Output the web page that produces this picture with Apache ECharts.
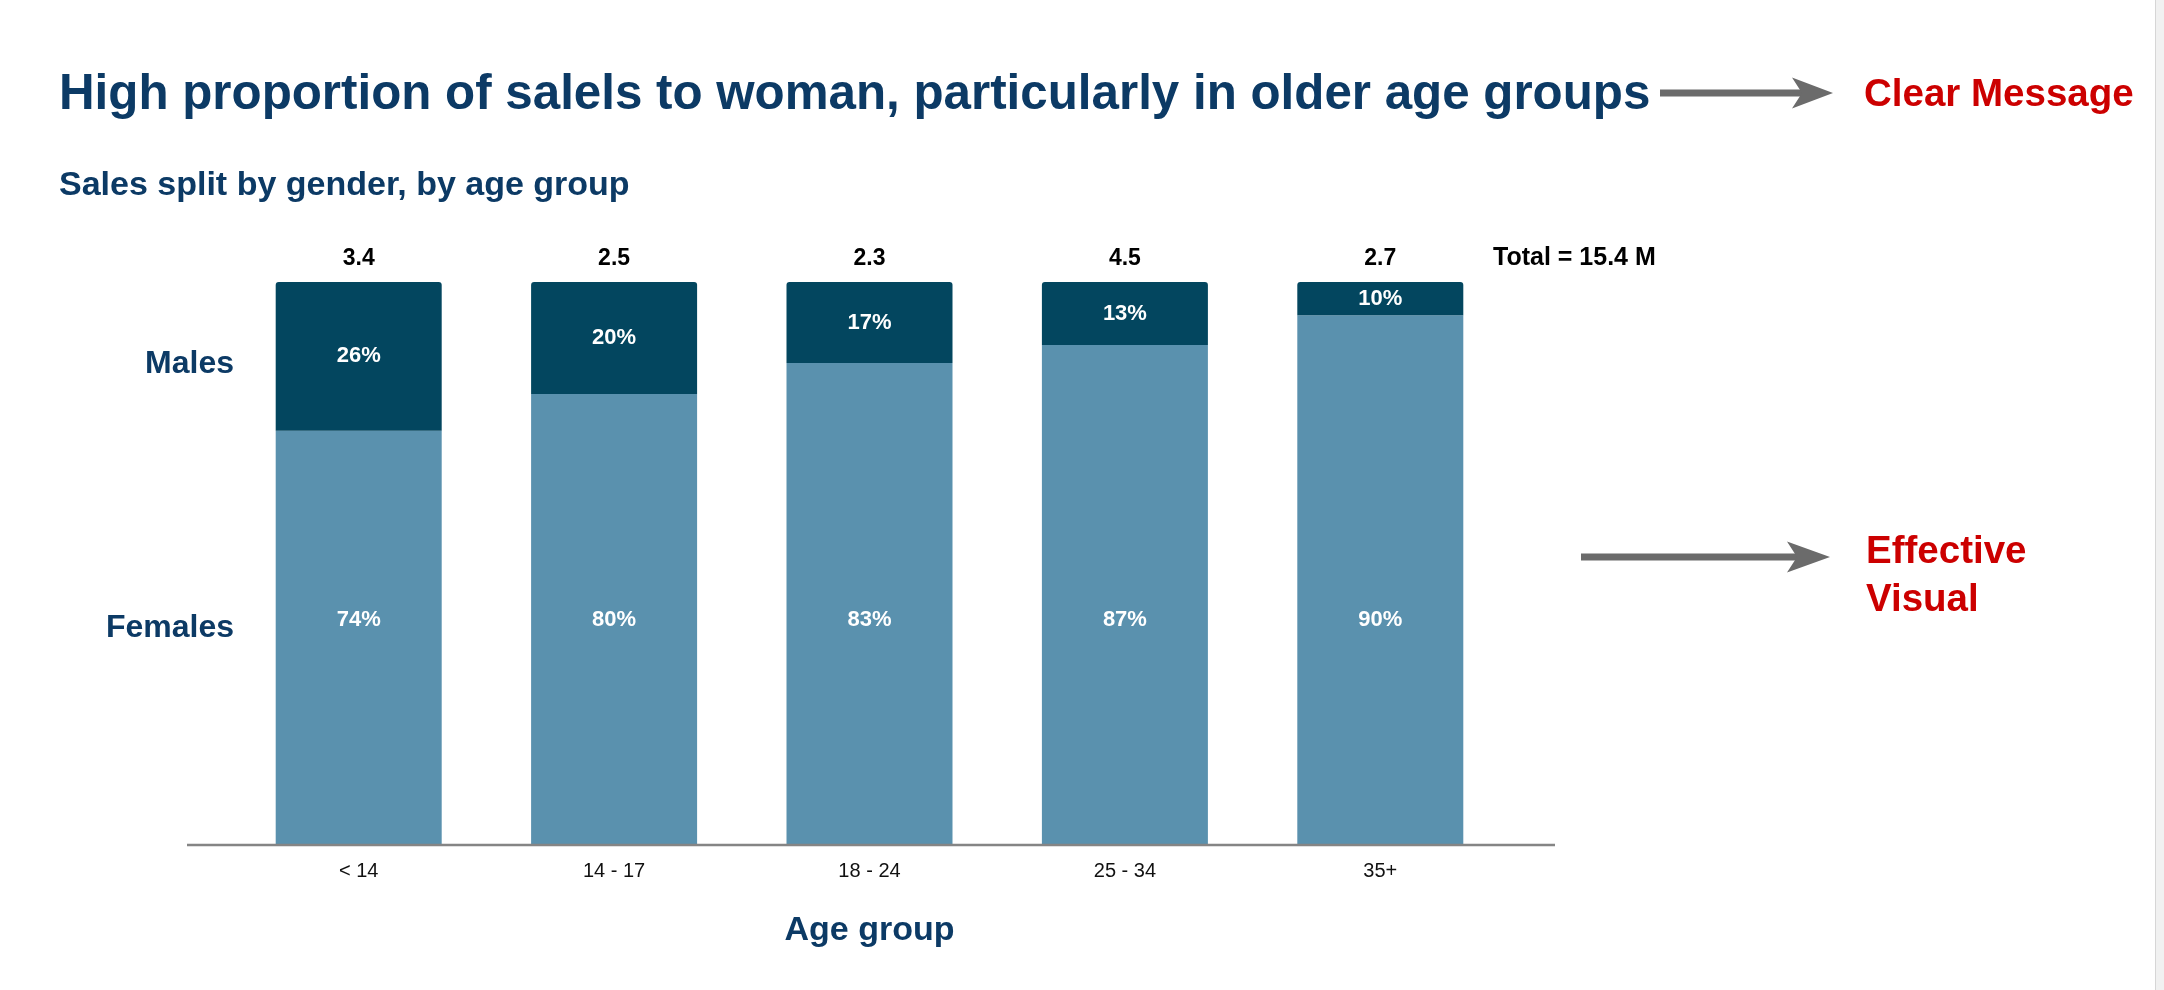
<!DOCTYPE html>
<html>
<head>
<meta charset="utf-8">
<script src="https://cdn.jsdelivr.net/npm/echarts@6/dist/echarts.min.js"></script>
<style>
  html, body { margin: 0; padding: 0; background: #ffffff; }
  #chart { width: 2164px; height: 990px; }
</style>
</head>
<body>
<div id="chart"></div>
<script>
// ---- data ----
const categories = ['< 14', '14 - 17', '18 - 24', '25 - 34', '35+'];
// drawn share of each bar (percent of bar height)
const malesShare = [26.4, 19.9, 14.4, 11.2, 5.9];
const femalesShare = [73.6, 80.1, 85.6, 88.8, 94.1];
// printed percentage labels
const malesLabels = [26, 20, 17, 13, 10];
const femalesLabels = [74, 80, 83, 87, 90];
// total sales per age group (M)
const totals = [3.4, 2.5, 2.3, 4.5, 2.7];
const grandTotal = 15.4;

const titleText = 'High proportion of salels to woman, particularly in older age groups';
const subtitleText = 'Sales split by gender, by age group';

// ---- style ----
const FONT = '"Liberation Sans", Arial, Helvetica, sans-serif';
const NAVY = '#0c3a65';
const RED = '#cc0000';
const GREY = '#6b6b6b';

const chart = echarts.init(document.getElementById('chart'), null, { renderer: 'canvas' });

function arrow(x1, x2, y, notch, back) {
  return {
    type: 'group',
    children: [
      { type: 'rect', shape: { x: x1, y: y - 3.5, width: notch - x1 + 2, height: 7 }, style: { fill: GREY } },
      { type: 'polygon', shape: { points: [[x2, y], [back, y - 15.5], [notch, y], [back, y + 15.5]] }, style: { fill: GREY } }
    ]
  };
}

function txt(x, y, text, color, font, align) {
  return { type: 'text', style: { x: x, y: y, text: text, fill: color, font: font, textAlign: align || 'left', textVerticalAlign: 'middle', verticalAlign: 'middle' } };
}

const option = {
  backgroundColor: '#ffffff',
  animation: false,
  textStyle: { fontFamily: FONT },
  grid: { left: 231, right: 656, top: 282, bottom: 145, containLabel: false },
  xAxis: {
    type: 'category',
    data: categories,
    boundaryGap: true,
    axisLine: { show: false },
    axisTick: { show: false },
    axisLabel: { color: '#111111', fontSize: 20, fontFamily: FONT, margin: 16 },
    name: 'Age group',
    nameLocation: 'middle',
    nameGap: 69,
    nameTextStyle: { color: NAVY, fontSize: 34, fontWeight: 'bold', fontFamily: FONT }
  },
  yAxis: {
    type: 'value',
    min: 0,
    max: 100,
    show: false,
    splitLine: { show: false }
  },
  series: [
    {
      name: 'Females',
      type: 'bar',
      stack: 'sales',
      data: femalesShare,
      barWidth: 166,
      itemStyle: { color: '#5a91ae' },
      label: {
        show: true,
        position: 'insideBottom',
        distance: 214,
        color: '#ffffff',
        fontSize: 22,
        fontWeight: 'bold',
        fontFamily: FONT,
        formatter: p => femalesLabels[p.dataIndex] + '%'
      }
    },
    {
      name: 'Males',
      type: 'bar',
      stack: 'sales',
      data: malesShare,
      barWidth: 166,
      itemStyle: { color: '#03465f', borderRadius: [3, 3, 0, 0] },
      label: {
        show: true,
        position: 'inside',
        color: '#ffffff',
        fontSize: 22,
        fontWeight: 'bold',
        fontFamily: FONT,
        formatter: p => malesLabels[p.dataIndex] + '%'
      },
      markPoint: {
        symbol: 'rect',
        symbolSize: 0,
        silent: true,
        label: {
          show: true,
          position: 'top',
          distance: 12,
          color: '#000000',
          fontSize: 23,
          fontWeight: 'bold',
          fontFamily: FONT,
          formatter: p => String(p.value)
        },
        data: categories.map((c, i) => ({ coord: [c, 100], value: totals[i].toFixed(1) }))
      }
    }
  ],
  graphic: [
    // title and subtitle
    txt(59, 95, titleText, NAVY, 'bold 49.3px ' + FONT),
    txt(59, 186, subtitleText, NAVY, 'bold 34px ' + FONT),
    // callouts
    arrow(1660, 1833, 93, 1802, 1792),
    txt(1864, 95, 'Clear Message', RED, 'bold 38.5px ' + FONT),
    arrow(1581, 1830, 557, 1797, 1787),
    txt(1866, 552, 'Effective', RED, 'bold 38.5px ' + FONT),
    txt(1866, 600, 'Visual', RED, 'bold 38.5px ' + FONT),
    // series labels on left
    txt(234, 364, 'Males', NAVY, 'bold 32px ' + FONT, 'right'),
    txt(234, 628, 'Females', NAVY, 'bold 32px ' + FONT, 'right'),
    // grand total
    txt(1493, 258, 'Total = ' + grandTotal + ' M', '#000000', 'bold 25px ' + FONT),
    // baseline
    { type: 'line', shape: { x1: 187, y1: 845, x2: 1555, y2: 845 }, style: { stroke: '#858585', lineWidth: 2.5 }, z: 10 },
    // right edge strip
    { type: 'rect', shape: { x: 2155, y: 0, width: 9, height: 990 }, style: { fill: '#f1f1f1' } },
    { type: 'line', shape: { x1: 2155.5, y1: 0, x2: 2155.5, y2: 990 }, style: { stroke: '#d6d6d6', lineWidth: 1 } }
  ]
};

chart.setOption(option);
</script>
</body>
</html>
